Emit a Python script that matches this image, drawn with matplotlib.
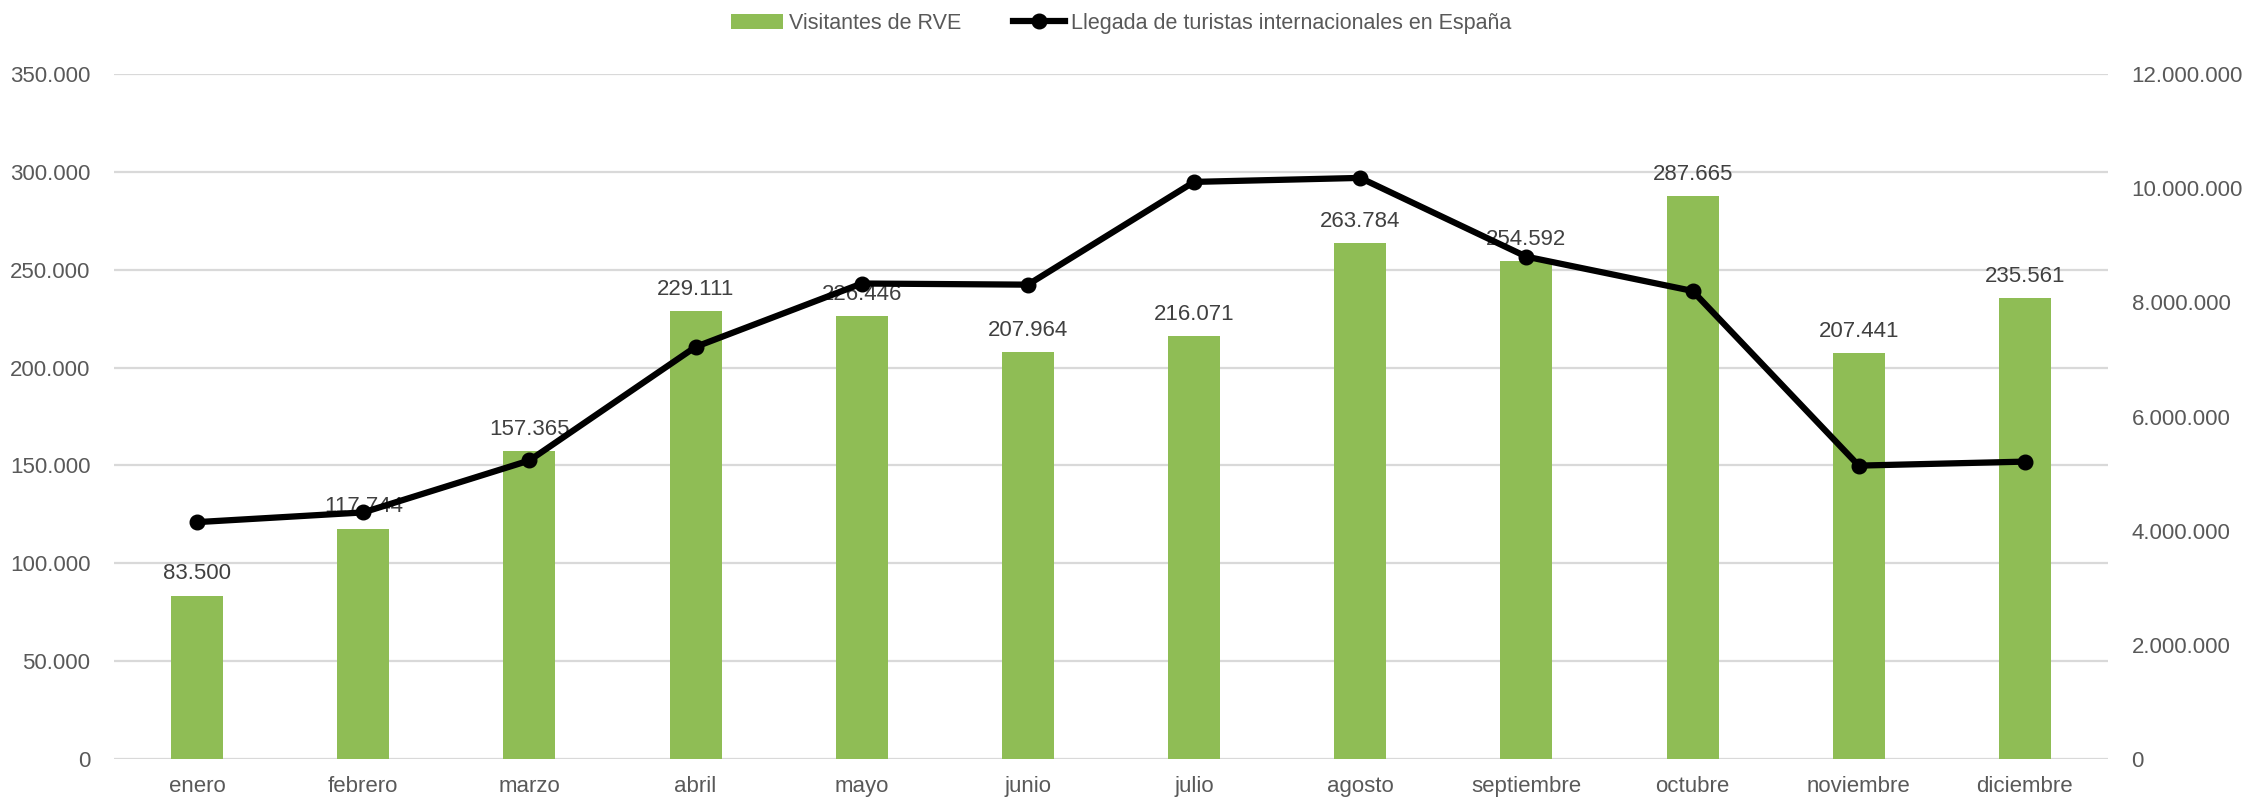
import matplotlib.pyplot as plt
from matplotlib.ticker import FuncFormatter, MultipleLocator
from matplotlib import font_manager

MONTHS = ["enero", "febrero", "marzo", "abril", "mayo", "junio", "julio",
          "agosto", "septiembre", "octubre", "noviembre", "diciembre"]
RVE_VISITORS = [83500, 117744, 157365, 229111, 226446, 207964, 216071,
                263784, 254592, 287665, 207441, 235561]
SPAIN_ARRIVALS = [4150000, 4320000, 5230000, 7220000, 8330000, 8310000,
                  10110000, 10180000, 8800000, 8200000, 5140000, 5210000]

BAR_COLOR = "#8FBD55"
TEXT_COLOR = "#595959"
GRID_COLOR = "#D9D9D9"

installed = {f.name for f in font_manager.fontManager.ttflist}
family = [f for f in ("Liberation Sans Narrow", "Liberation Sans", "DejaVu Sans") if f in installed]
plt.rcParams["font.family"] = family


def dotted(v, _pos=None):
    return f"{int(round(v)):,}".replace(",", ".")


fig = plt.figure(figsize=(22.43, 8.01), dpi=100)
ax = fig.add_axes([114 / 2243, 0.0524, 1994 / 2243, 0.8552])
ax2 = ax.twinx()

x = range(len(MONTHS))
ax.bar(x, RVE_VISITORS, width=0.313, color=BAR_COLOR, zorder=2,
       label="Visitantes de RVE")
for xi, v in zip(x, RVE_VISITORS):
    ax.annotate(dotted(v), (xi, v), xytext=(0, 8), textcoords="offset points",
                ha="center", va="bottom", fontsize=16, color="#404040")

ax2.plot(x, SPAIN_ARRIVALS, color="black", linewidth=4.5, marker="o",
         markersize=10.5, label="Llegada de turistas internacionales en España")

ax.set_xlim(-0.5, len(MONTHS) - 0.5)
ax.set_ylim(0, 350000)
ax2.set_ylim(0, 12000000)
ax.yaxis.set_major_locator(MultipleLocator(50000))
ax2.yaxis.set_major_locator(MultipleLocator(2000000))
ax.yaxis.set_major_formatter(FuncFormatter(dotted))
ax2.yaxis.set_major_formatter(FuncFormatter(dotted))

ax.set_xticks(list(x))
ax.set_xticklabels(MONTHS)
ax.grid(axis="y", color=GRID_COLOR, linewidth=1.6, zorder=0)
ax.set_axisbelow(True)
for a in (ax, ax2):
    for s in a.spines.values():
        s.set_visible(False)
    a.tick_params(length=0, labelsize=16, colors=TEXT_COLOR)
ax.tick_params(axis="y", pad=17)
ax.tick_params(axis="x", pad=12)
ax2.tick_params(axis="y", pad=17)

h1, l1 = ax.get_legend_handles_labels()
h2, l2 = ax2.get_legend_handles_labels()
fig.legend(h1 + h2, l1 + l2, loc="center", bbox_to_anchor=(0.5, 0.971),
           ncol=2, frameon=False, fontsize=15.5, labelcolor=TEXT_COLOR,
           handlelength=2.4, columnspacing=2.4, handletextpad=0.3)

fig.savefig("out.png", dpi=100)
